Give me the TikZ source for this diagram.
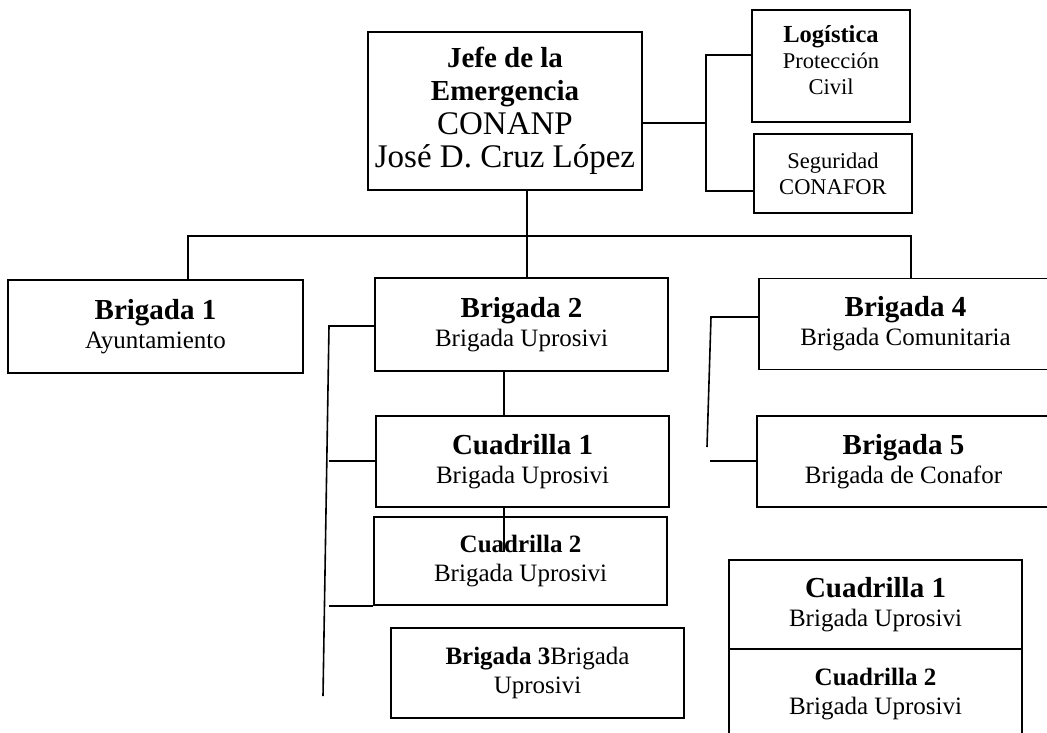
\documentclass[tikz,border=0pt]{standalone}
\usepackage{fontspec}
\setmainfont{Liberation Serif}
\newcommand{\ttl}[1]{{\fontsize{29}{33}\selectfont\bfseries #1}}
\newcommand{\sttl}[1]{{\fontsize{24.5}{26}\selectfont\bfseries #1}}

\begin{document}
\begin{tikzpicture}[x=1pt,y=-1pt,
    unit/.style={draw,line width=1.6pt,align=center,inner sep=0pt,minimum width=293pt,minimum height=91pt,font=\fontsize{25}{29}\selectfont},
    staff/.style={unit,minimum width=158pt,font=\fontsize{22.5}{26}\selectfont},
    link/.style={line width=1.6pt}]
  \useasboundingbox (0,0) rectangle (1047,732);
  \clip (0,0) rectangle (1047,732);

  \node[unit,minimum width=274pt,minimum height=158pt,font=\fontsize{33}{33.5}\selectfont] (jefe) at (505,111) {\ttl{Jefe de la}\\\ttl{Emergencia}\\CONANP\\José D. Cruz López};
  \node[staff,minimum height=112pt,text depth=12pt] (log) at (831,66) {\sttl{Logística}\\Protección\\Civil};
  \node[staff,minimum height=79pt] (seg) at (833,173.5) {Seguridad\\CONAFOR};

  \node[unit,minimum width=295pt,minimum height=93pt] (b1) at (155.5,326.5) {\ttl{Brigada 1}\\Ayuntamiento};
  \node[unit,minimum height=93pt] (b2) at (521.5,324.5) {\ttl{Brigada 2}\\Brigada Uprosivi};
  \node[unit] (b4) at (905.5,324) {\ttl{Brigada 4}\\Brigada Comunitaria};
  \node[unit] (b5) at (903.5,461.5) {\ttl{Brigada 5}\\Brigada de Conafor};
  \node[unit] (c1) at (522.5,461.5) {\ttl{Cuadrilla 1}\\Brigada Uprosivi};
  \node[unit,minimum height=88pt] (c2) at (520.5,561) {\textbf{Cuadrilla 2}\\Brigada Uprosivi};
  \node[unit,minimum height=90pt] (b3) at (537.5,673) {\textbf{Brigada 3}Brigada\\Uprosivi};
  \node[unit,minimum height=89pt] (q1) at (875.5,604.5) {\ttl{Cuadrilla 1}\\Brigada Uprosivi};
  \node[unit,minimum height=91pt] (q2) at (875.5,694.5) {\textbf{Cuadrilla 2}\\Brigada Uprosivi};

  \coordinate (bus) at (527,236);
  \coordinate (busL) at (188,236);
  \coordinate (busR) at (911,236);
  \draw[link] (busL |- b1.north) -- (busL) -- (busR) -- (busR |- b4.north);
  \draw[link] (bus |- jefe.south) -- (bus |- b2.north);

  \coordinate (hq) at (706,123);
  \coordinate (hqT) at (706,55);
  \coordinate (hqB) at (706,191);
  \draw[link] (jefe.east |- hq) -- (hq);
  \draw[link] (hqT -| log.west) -- (hqT) -- (hqB) -- (hqB -| seg.west);

  \coordinate (lT) at (329,326);
  \coordinate (lM) at (329,461);
  \coordinate (lB) at (323,696);
  \draw[link] (lT -| b2.west) -- (lT) -- (lB);
  \draw[link] (c1.west |- lM) -- (lM);
  \draw[link] (c2.south west) -- (c2.south west -| lM);

  \coordinate (sq) at (504,552);
  \draw[link] (b2.south -| sq) -- (c1.north -| sq);
  \draw[link] (c1.south -| sq) -- (sq);

  \coordinate (rT) at (711,317);
  \coordinate (rM) at (710,461);
  \coordinate (rB) at (707,447);
  \draw[link] (rT -| b4.west) -- (rT) -- (rB);
  \draw[link] (rM) -- (rM -| b5.west);
\end{tikzpicture}
\end{document}
